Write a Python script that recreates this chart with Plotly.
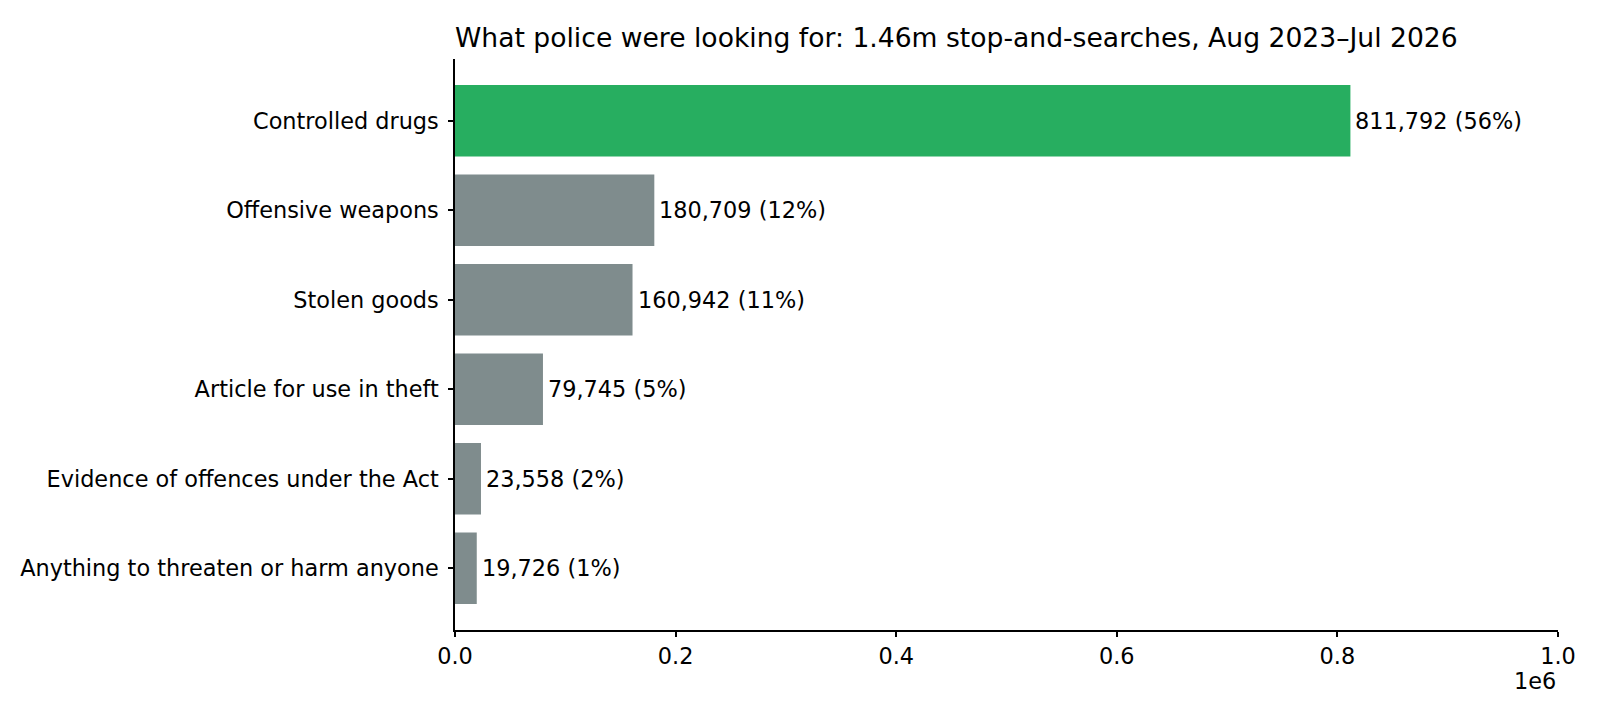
import plotly.graph_objects as go

# data
categories = [
    "Controlled drugs",
    "Offensive weapons",
    "Stolen goods",
    "Article for use in theft",
    "Evidence of offences under the Act",
    "Anything to threaten or harm anyone",
]
counts = [811792, 180709, 160942, 79745, 23558, 19726]
pcts = [56, 12, 11, 5, 2, 1]
x_ticks = [0, 200000, 400000, 600000, 800000, 1000000]
x_tick_text = ["0.0", "0.2", "0.4", "0.6", "0.8", "1.0"]

GREEN = "#27ae60"
GREY = "#7f8c8d"
FONT = "DejaVu Sans"
FS = 22.4

colors = [GREEN if i == 0 else GREY for i in range(len(categories))]
labels = [f"{c:,} ({p}%)" for c, p in zip(counts, pcts)]

fig = go.Figure()
fig.add_trace(go.Bar(
    x=counts, y=categories, orientation="h",
    marker=dict(color=colors, line=dict(width=0)),
    width=0.8,
))

# value labels just right of each bar
annots = [
    dict(x=c, y=cat, text=t, xanchor="left", yanchor="middle", xshift=3,
         showarrow=False, font=dict(family=FONT, size=FS, color="black"))
    for c, cat, t in zip(counts, categories, labels)
]
# matplotlib-style offset text under the x axis
annots.append(dict(
    text="1e6", x=1, xref="paper", xanchor="right",
    y=0, yref="paper", yanchor="middle", yshift=-51,
    showarrow=False, font=dict(family=FONT, size=FS, color="black"),
))

n = len(categories)
fig.update_layout(
    width=1600, height=720,
    margin=dict(l=447, r=50, t=51, b=98),
    plot_bgcolor="white", paper_bgcolor="white",
    showlegend=False,
    font=dict(family=FONT, size=FS, color="black"),
    title=dict(
        text="What police were looking for: 1.46m stop-and-searches, Aug 2023–Jul 2026",
        x=447 / 1600, xanchor="left", xref="container",
        y=1 - 30 / 720, yanchor="middle", yref="container",
        font=dict(family=FONT, size=26.6, color="black"),
    ),
    xaxis=dict(
        range=[0, 1000000], tickvals=x_ticks, ticktext=x_tick_text,
        showgrid=False, zeroline=False,
        showline=True, linecolor="black", linewidth=1.5,
        ticks="outside", ticklen=5, tickwidth=1.5, tickcolor="black",
        tickfont=dict(family=FONT, size=FS),
    ),
    yaxis=dict(
        categoryorder="array", categoryarray=categories,
        range=[n - 1 + 0.69, -0.69],
        showgrid=False, zeroline=False,
        showline=True, linecolor="black", linewidth=1.5,
        ticks="outside", ticklen=5, tickwidth=1.5, tickcolor="black",
        ticklabelstandoff=5,
        tickfont=dict(family=FONT, size=FS),
    ),
    annotations=annots,
)

fig.write_html("out.html")
